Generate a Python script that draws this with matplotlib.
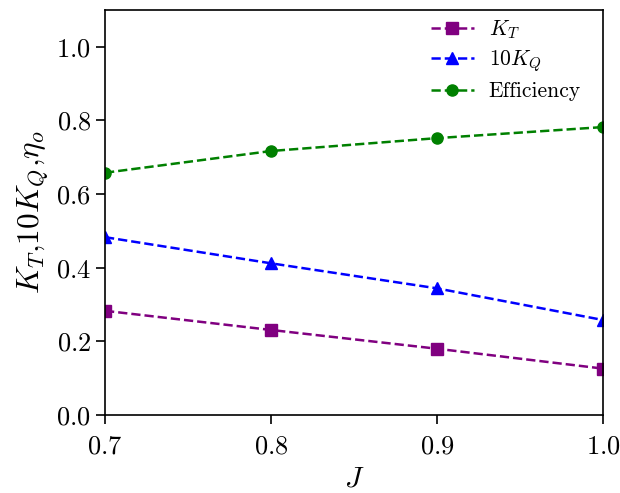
import matplotlib
matplotlib.use("Agg")
import matplotlib.pyplot as plt

plt.rcParams['font.family'] = 'serif'
plt.rcParams['font.serif'] = ['cmr10', 'DejaVu Serif']
plt.rcParams['mathtext.fontset'] = 'cm'
plt.rcParams['axes.formatter.use_mathtext'] = True

J = [0.7, 0.8, 0.9, 1.0]
KT = [0.283, 0.231, 0.180, 0.126]
KQ10 = [0.483, 0.412, 0.344, 0.258]
eff = [0.658, 0.717, 0.752, 0.782]

fig = plt.figure(figsize=(6.2, 4.93), dpi=100)
ax = fig.add_axes([105/620, 1-415/493, (603-105)/620, (415-10)/493])

ax.plot(J, KT, '--s', color='purple', lw=1.8, ms=8, label=r'$K_T$')
ax.plot(J, KQ10, '--^', color='blue', lw=1.8, ms=8, label=r'$10K_Q$')
ax.plot(J, eff, '--o', color='green', lw=1.8, ms=8, label='Efficiency')

ax.set_xlim(0.7, 1.0)
ax.set_ylim(0, 1.1)
ax.set_xticks([0.7, 0.8, 0.9, 1.0])
ax.set_yticks([0.0, 0.2, 0.4, 0.6, 0.8, 1.0])
ax.tick_params(labelsize=19, length=6.5, width=1.2)
ax.tick_params(axis='x', pad=8)
for s in ax.spines.values():
    s.set_linewidth(1.2)
ax.set_xlabel(r'$J$', fontsize=21, labelpad=5)
ax.set_ylabel(r'$K_T{,}10K_Q{,}\eta_o$', fontsize=22.5, labelpad=4)
ax.legend(loc='upper right', bbox_to_anchor=(0.973, 1.0), borderaxespad=0,
          frameon=False, fontsize=15.5, labelspacing=0.34, handletextpad=0.7)

fig.savefig('out.png', dpi=100)
